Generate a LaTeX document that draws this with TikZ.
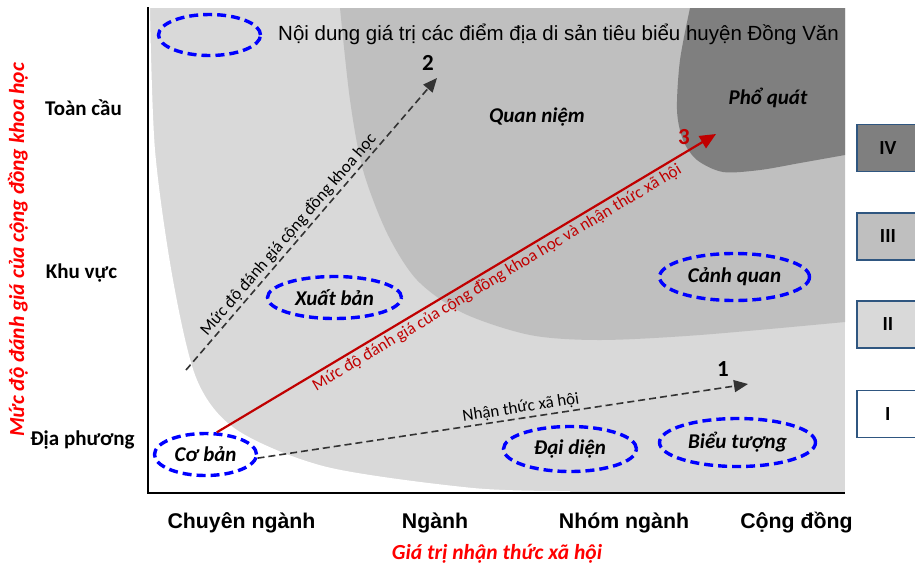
\documentclass[tikz,border=0pt]{standalone}
\usepackage{fontspec}
\setmainfont{Liberation Sans}
\newfontfamily\calfont{Carlito}
\usetikzlibrary{arrows.meta,shapes.geometric}
\definecolor{lgray}{HTML}{D9D9D9}
\definecolor{mgray}{HTML}{BFBFBF}
\definecolor{dgray}{HTML}{7F7F7F}
\definecolor{ellblue}{HTML}{0000FF}
\definecolor{darkred}{HTML}{C00000}
\definecolor{axred}{HTML}{FF0000}
\definecolor{boxblue}{HTML}{2F5680}
\definecolor{arrgray}{HTML}{333333}
\tikzset{
  ell/.style={ellipse, draw=ellblue, line width=3.4pt, dash pattern=on 9pt off 5pt, inner sep=0pt,
    font=\calfont\fontsize{21}{25}\selectfont\bfseries\itshape},
  regtxt/.style={font=\calfont\fontsize{21}{25}\selectfont\bfseries\itshape},
  ylab/.style={font=\calfont\fontsize{21}{25}\selectfont\bfseries, anchor=base, inner sep=0pt},
  xlab/.style={font=\fontsize{21.3}{25}\selectfont\bfseries, anchor=base, inner sep=0pt},
  axtitle/.style={font=\calfont\fontsize{21.5}{25}\selectfont\bfseries\itshape, text=axred, inner sep=0pt},
  numlab/.style={font=\calfont\fontsize{23}{27}\selectfont\bfseries, anchor=base, inner sep=0pt},
  dasharr/.style={draw=arrgray, line width=1.6pt, dash pattern=on 7pt off 4pt, -{Triangle[length=14pt,width=12pt]}},
  redarr/.style={draw=darkred, line width=2.2pt, -{Triangle[length=16pt,width=14pt]}},
  slopelab/.style={font=\calfont\fontsize{17}{20}\selectfont, sloped, inner sep=2pt},
  lbox/.style={draw=boxblue, line width=1.8pt, minimum width=62pt, minimum height=47pt, anchor=west,
    font=\calfont\fontsize{20}{24}\selectfont\bfseries},
}
\begin{document}
\begin{tikzpicture}[x=1pt,y=-1pt]
\useasboundingbox (0,0) rectangle (915,566);
% background regions
\fill[lgray] (149,8) rectangle (845,492);
\fill[white] plot[smooth] coordinates {(150,8) (155,150) (173,280) (197,380) (237,430) (327,467) (473,488) (570,491)} -- (570,493) -- (149,493) -- (149,8) -- cycle;
\fill[mgray] plot[smooth] coordinates {(340,8) (350,100) (363,170) (387,233) (417,280) (463,313) (530,335) (600,340) (700,335) (845,322)} -- (845,8) -- cycle;
\fill[dgray] plot[smooth] coordinates {(690,8) (680,60) (677,110) (683,140) (697,160) (723,172) (760,170) (800,163) (845,155)} -- (845,8) -- cycle;
% axes
\coordinate (ytop) at (148,7);
\coordinate (orig) at (148,493);
\coordinate (xend) at (845,493);
\draw[line width=2pt] (ytop) -- (orig) -- (xend);
% title and legend ellipse
\node[ell, minimum width=102pt, minimum height=41pt] (leg) at (209.5,35) {};
\node[anchor=base west, font=\fontsize{20.5}{24}\selectfont, inner sep=0pt] (title) at (278,40.5) {Nội dung giá trị các điểm địa di sản tiêu biểu huyện Đồng Văn};
% ellipses
\node[ell, minimum width=102pt, minimum height=42pt] (cb) at (205.5,454.5) {Cơ bản};
\node[ell, minimum width=134pt, minimum height=42pt] (xb) at (334.5,297.5) {Xuất bản};
\node[ell, minimum width=133pt, minimum height=45pt] (dd) at (570,449) {Đại diện};
\node[ell, minimum width=156pt, minimum height=48pt] (bt) at (737.5,442.5) {Biểu tượng};
\node[ell, minimum width=150pt, minimum height=47pt] (cq) at (734.5,277) {Cảnh quan};
\node[regtxt] (qn) at (537,117) {Quan niệm};
\node[regtxt] (pq) at (768,98) {Phổ quát};
% arrows
\coordinate (s2) at (186,370);
\coordinate (e2) at (437,78);
\coordinate (e1) at (748,384);
\coordinate (e3) at (716,134);
\draw[dasharr] (s2) -- node[slopelab, pos=0.44, above] {Mức độ đánh giá cộng đồng khoa học} (e2);
\draw[dasharr] (cb.-4) -- node[slopelab, pos=0.54, above] {Nhận thức xã hội} (e1);
\draw[redarr] (cb.63) -- node[slopelab, pos=0.55, below, text=darkred] {Mức độ đánh giá của cộng đồng khoa học và nhận thức xã hội} (e3);
\node[numlab] (n1) at (723,376) {1};
\node[numlab] (n2) at (428,70.5) {2};
\node[numlab, text=darkred] (n3) at (684,144) {3};
% y labels
\node[ylab] (yl1) at (83.5,115) {Toàn cầu};
\node[ylab] (yl2) at (81.5,278) {Khu vực};
\node[ylab] (yl3) at (82.5,445) {Địa phương};
\node[axtitle, rotate=90] (ytitle) at (18,250) {Mức độ đánh giá của cộng đồng khoa học};
% x labels
\node[xlab] (xl1) at (241.5,528) {Chuyên ngành};
\node[xlab] (xl2) at (435,528) {Ngành};
\node[xlab] (xl3) at (624,528) {Nhóm ngành};
\node[xlab] (xl4) at (796.5,528) {Cộng đồng};
\node[axtitle, anchor=base] (xtitle) at (497,559) {Giá trị nhận thức xã hội};
% legend boxes
\node[lbox, fill=dgray] (b4) at (856,148) {IV};
\node[lbox, fill=mgray] (b3) at (856,236.5) {III};
\node[lbox, fill=lgray] (b2) at (856,324.5) {II};
\node[lbox, fill=white] (b1) at (856,414) {I};
\end{tikzpicture}
\end{document}
